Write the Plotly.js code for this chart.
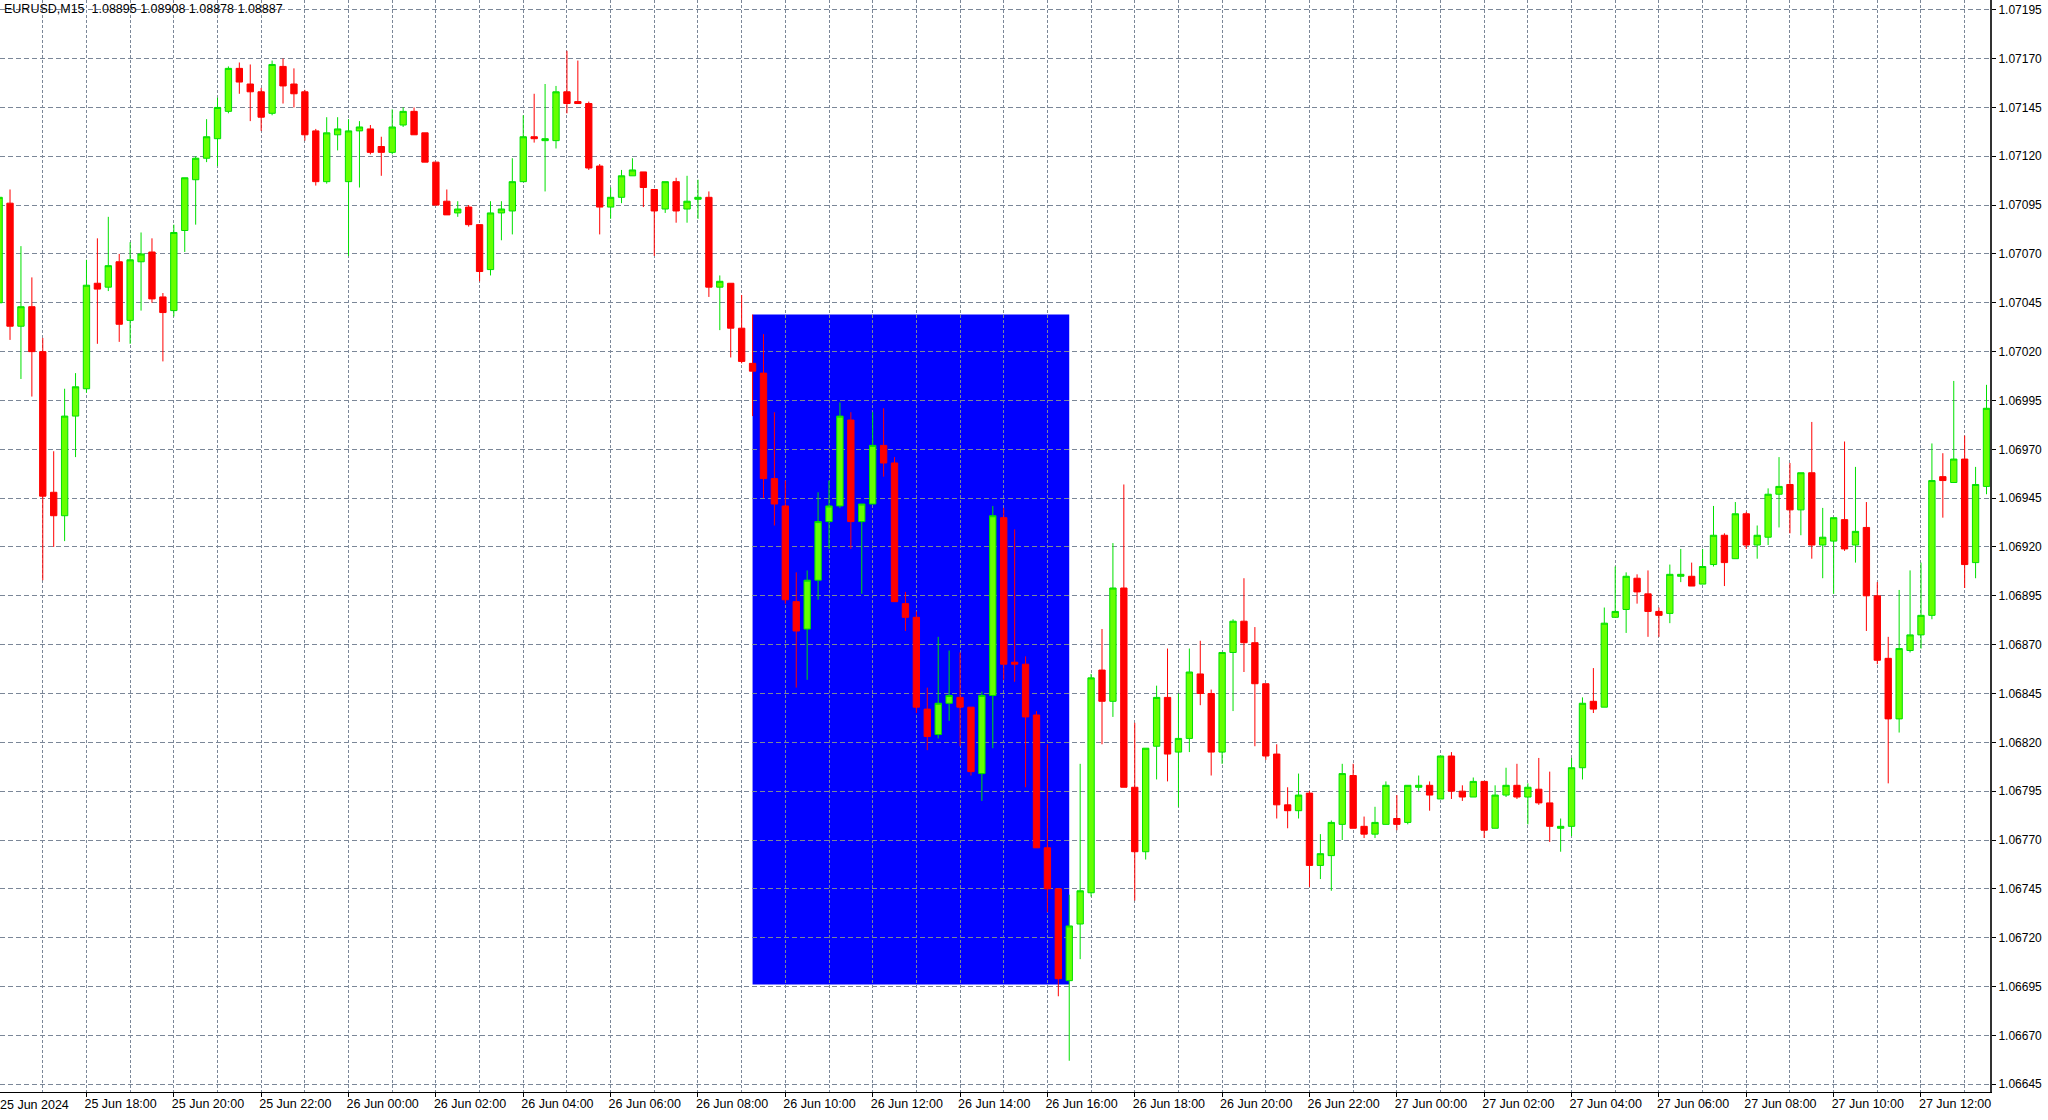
<!DOCTYPE html>
<html>
<head>
<meta charset="utf-8">
<script src="https://cdn.plot.ly/plotly-3.0.1.min.js"></script>
<style>
  html, body { margin: 0; padding: 0; background: #ffffff; }
  #chart { width: 2048px; height: 1120px; }
</style>
</head>
<body>
<div id="chart"></div>
<script>
// EURUSD M15 bars, 25 Jun 2024 16:00 ... 27 Jun 2024 13:30 (bar index 0..182)
const openPrices = [
1.07045,1.07096,1.07033,1.07043,1.07020,1.06948,1.06936,1.06987,1.07001,1.07055,
1.07053,1.07066,1.07036,1.07066,1.07071,1.07048,1.07041,1.07082,1.07108,1.07119,
1.07129,1.07143,1.07165,1.07157,1.07153,1.07142,1.07166,1.07157,1.07153,1.07133,
1.07107,1.07131,1.07107,1.07133,1.07134,1.07125,1.07122,1.07136,1.07143,1.07132,
1.07117,1.07097,1.07091,1.07094,1.07085,1.07062,1.07091,1.07092,1.07107,1.07130,
1.07128,1.07128,1.07153,1.07148,1.07147,1.07115,1.07094,1.07099,1.07110,1.07112,
1.07103,1.07093,1.07107,1.07093,1.07098,1.07099,1.07053,1.07055,1.07032,1.07014,
1.07009,1.06955,1.06941,1.06892,1.06878,1.06903,1.06933,1.06941,1.06985,1.06933,
1.06942,1.06972,1.06963,1.06891,1.06884,1.06837,1.06824,1.06840,1.06843,1.06838,
1.06804,1.06844,1.06935,1.06861,1.06860,1.06834,1.06766,1.06745,1.06698,1.06727,
1.06743,1.06857,1.06841,1.06899,1.06797,1.06764,1.06818,1.06843,1.06815,1.06822,
1.06855,1.06845,1.06815,1.06866,1.06882,1.06871,1.06850,1.06814,1.06788,1.06785,
1.06794,1.06757,1.06762,1.06778,1.06803,1.06777,1.06773,1.06778,1.06781,1.06779,
1.06797,1.06798,1.06791,1.06813,1.06795,1.06792,1.06800,1.06776,1.06793,1.06798,
1.06792,1.06796,1.06789,1.06776,1.06777,1.06807,1.06841,1.06838,1.06884,1.06888,
1.06904,1.06896,1.06887,1.06886,1.06905,1.06905,1.06901,1.06911,1.06926,1.06914,
1.06937,1.06921,1.06925,1.06947,1.06952,1.06939,1.06958,1.06921,1.06923,1.06934,
1.06921,1.06930,1.06895,1.06863,1.06832,1.06867,1.06875,1.06885,1.06956,1.06953,
1.06965,1.06912,1.06951
];
const highPrices = [
1.07105,1.07103,1.07074,1.07058,1.07027,1.06969,1.07001,1.07009,1.07067,1.07078,
1.07089,1.07070,1.07076,1.07081,1.07078,1.07050,1.07085,1.07109,1.07120,1.07139,
1.07150,1.07166,1.07168,1.07167,1.07155,1.07169,1.07170,1.07165,1.07154,1.07134,
1.07140,1.07140,1.07139,1.07138,1.07136,1.07130,1.07144,1.07145,1.07145,1.07132,
1.07117,1.07103,1.07097,1.07095,1.07085,1.07097,1.07097,1.07119,1.07141,1.07152,
1.07157,1.07156,1.07174,1.07169,1.07148,1.07116,1.07104,1.07113,1.07119,1.07112,
1.07103,1.07107,1.07109,1.07110,1.07108,1.07102,1.07059,1.07055,1.07049,1.07039,
1.07029,1.06989,1.06954,1.06907,1.06908,1.06948,1.06954,1.06994,1.06989,1.06942,
1.06989,1.06991,1.06966,1.06897,1.06887,1.06848,1.06874,1.06867,1.06866,1.06838,
1.06846,1.06941,1.06940,1.06929,1.06864,1.06836,1.06819,1.06745,1.06742,1.06809,
1.06855,1.06878,1.06922,1.06952,1.06830,1.06817,1.06849,1.06868,1.06845,1.06868,
1.06872,1.06847,1.06866,1.06883,1.06904,1.06879,1.06850,1.06819,1.06797,1.06804,
1.06795,1.06773,1.06780,1.06809,1.06809,1.06782,1.06787,1.06800,1.06793,1.06798,
1.06803,1.06800,1.06813,1.06815,1.06798,1.06802,1.06800,1.06798,1.06807,1.06809,
1.06799,1.06812,1.06805,1.06781,1.06812,1.06843,1.06858,1.06889,1.06910,1.06907,
1.06906,1.06908,1.06889,1.06911,1.06919,1.06912,1.06919,1.06941,1.06927,1.06943,
1.06938,1.06931,1.06950,1.06966,1.06963,1.06958,1.06984,1.06940,1.06935,1.06974,
1.06961,1.06943,1.06902,1.06874,1.06898,1.06908,1.06912,1.06973,1.06968,1.07005,
1.06977,1.06961,1.07003
];
const lowPrices = [
1.07040,1.07026,1.07006,1.06997,1.06903,1.06920,1.06923,1.06966,1.06999,1.07024,
1.07051,1.07025,1.07024,1.07041,1.07045,1.07015,1.07038,1.07071,1.07085,1.07117,
1.07115,1.07142,1.07152,1.07138,1.07133,1.07141,1.07147,1.07145,1.07128,1.07105,
1.07106,1.07123,1.07069,1.07104,1.07121,1.07110,1.07121,1.07135,1.07131,1.07117,
1.07095,1.07090,1.07089,1.07084,1.07056,1.07059,1.07077,1.07080,1.07107,1.07127,
1.07102,1.07124,1.07142,1.07147,1.07113,1.07080,1.07088,1.07096,1.07110,1.07094,
1.07069,1.07091,1.07086,1.07086,1.07088,1.07048,1.07031,1.07017,1.07014,1.06987,
1.06945,1.06931,1.06891,1.06848,1.06852,1.06893,1.06919,1.06940,1.06919,1.06896,
1.06942,1.06956,1.06892,1.06877,1.06835,1.06816,1.06822,1.06831,1.06818,1.06803,
1.06790,1.06817,1.06852,1.06851,1.06797,1.06766,1.06733,1.06690,1.06657,1.06709,
1.06741,1.06819,1.06833,1.06797,1.06739,1.06760,1.06801,1.06800,1.06787,1.06815,
1.06839,1.06803,1.06809,1.06836,1.06856,1.06818,1.06811,1.06781,1.06776,1.06781,
1.06746,1.06750,1.06744,1.06770,1.06776,1.06771,1.06771,1.06778,1.06775,1.06778,
1.06795,1.06785,1.06791,1.06791,1.06790,1.06792,1.06771,1.06776,1.06792,1.06791,
1.06778,1.06788,1.06769,1.06764,1.06772,1.06801,1.06835,1.06838,1.06884,1.06876,
1.06891,1.06874,1.06874,1.06881,1.06902,1.06900,1.06901,1.06910,1.06900,1.06914,
1.06919,1.06914,1.06921,1.06930,1.06927,1.06926,1.06914,1.06904,1.06896,1.06918,
1.06912,1.06877,1.06860,1.06799,1.06825,1.06866,1.06868,1.06883,1.06935,1.06953,
1.06899,1.06904,1.06947
];
const closePrices = [
1.07099,1.07033,1.07043,1.07020,1.06946,1.06936,1.06987,1.07002,1.07054,1.07052,
1.07064,1.07034,1.07067,1.07070,1.07047,1.07040,1.07081,1.07109,1.07119,1.07130,
1.07145,1.07165,1.07158,1.07153,1.07140,1.07167,1.07156,1.07152,1.07131,1.07107,
1.07132,1.07134,1.07133,1.07135,1.07122,1.07122,1.07135,1.07143,1.07131,1.07117,
1.07095,1.07090,1.07093,1.07085,1.07061,1.07091,1.07093,1.07107,1.07130,1.07129,
1.07129,1.07153,1.07147,1.07147,1.07114,1.07094,1.07099,1.07110,1.07113,1.07104,
1.07092,1.07107,1.07092,1.07097,1.07099,1.07053,1.07056,1.07032,1.07015,1.07010,
1.06955,1.06942,1.06893,1.06877,1.06903,1.06933,1.06941,1.06987,1.06933,1.06942,
1.06972,1.06963,1.06892,1.06884,1.06838,1.06823,1.06840,1.06844,1.06838,1.06805,
1.06844,1.06936,1.06860,1.06860,1.06833,1.06766,1.06745,1.06699,1.06726,1.06744,
1.06853,1.06841,1.06899,1.06797,1.06764,1.06817,1.06843,1.06814,1.06822,1.06856,
1.06845,1.06815,1.06866,1.06882,1.06871,1.06850,1.06813,1.06788,1.06785,1.06793,
1.06757,1.06763,1.06779,1.06804,1.06776,1.06773,1.06779,1.06798,1.06778,1.06798,
1.06798,1.06793,1.06813,1.06795,1.06792,1.06800,1.06775,1.06793,1.06798,1.06792,
1.06797,1.06789,1.06777,1.06777,1.06807,1.06840,1.06837,1.06881,1.06887,1.06905,
1.06897,1.06887,1.06885,1.06906,1.06906,1.06900,1.06910,1.06926,1.06912,1.06937,
1.06921,1.06926,1.06947,1.06951,1.06939,1.06958,1.06921,1.06925,1.06935,1.06919,
1.06928,1.06895,1.06862,1.06832,1.06868,1.06875,1.06885,1.06954,1.06954,1.06965,
1.06911,1.06952,1.06991
];

// time-axis labels (bar index -> label)
const labelBars = [8,16,24,32,40,48,56,64,72,80,88,96,104,112,120,128,136,144,152,160,168,176];
const labelTexts = [
'25 Jun 18:00','25 Jun 20:00','25 Jun 22:00','26 Jun 00:00','26 Jun 02:00','26 Jun 04:00',
'26 Jun 06:00','26 Jun 08:00','26 Jun 10:00','26 Jun 12:00','26 Jun 14:00','26 Jun 16:00',
'26 Jun 18:00','26 Jun 20:00','26 Jun 22:00','27 Jun 00:00','27 Jun 02:00','27 Jun 04:00',
'27 Jun 06:00','27 Jun 08:00','27 Jun 10:00','27 Jun 12:00'
];
const hourGridBars = [4,12,20,28,36,44,52,60,68,76,84,92,100,108,116,124,132,140,148,156,164,172,180];
const firstLabel = '25 Jun 2024';
const headerText = 'EURUSD,M15\u00a0\u00a01.08895\u00a01.08908\u00a01.08878\u00a01.08887';

// price ticks
const priceTick0 = 1.06645;
const priceStep = 0.00025;

// blue rectangle object (bars 26 Jun 09:15 -> 26 Jun 16:30)
const rectStartBar = 69;
const rectEndBar = 98;
const rectTop = 1.07039;
const rectBottom = 1.06696;

const barIndex = openPrices.map((_, i) => i);

const gridColor = '#7b8798';
const fontFamily = '"Liberation Sans", Arial, sans-serif';

const trace = {
  type: 'candlestick',
  x: barIndex,
  open: openPrices,
  high: highPrices,
  low: lowPrices,
  close: closePrices,
  increasing: { line: { color: '#00e000', width: 1 }, fillcolor: '#66ff00' },
  decreasing: { line: { color: '#ff0000', width: 1 }, fillcolor: '#ff0000' },
  whiskerwidth: 0,
  hoverinfo: 'skip',
  showlegend: false
};

const layout = {
  width: 2048,
  height: 1120,
  margin: { l: 0, r: 58, t: 0, b: 28, pad: 0 },
  paper_bgcolor: '#ffffff',
  plot_bgcolor: '#ffffff',
  boxgap: 0.42,
  boxgroupgap: 0,
  showlegend: false,
  font: { family: fontFamily, size: 12, color: '#000000' },
  xaxis: {
    type: 'linear',
    range: [0.082, 182.32],
    rangeslider: { visible: false },
    tickmode: 'array',
    tickvals: labelBars,
    ticktext: labelTexts,
    ticklabelposition: 'outside right',
    ticklabelshift: -3,
    ticks: 'outside',
    ticklen: 4,
    tickcolor: '#000000',
    tickfont: { family: fontFamily, size: 12.5, color: '#000000' },
    showgrid: true,
    gridcolor: gridColor,
    gridwidth: 1,
    griddash: '3px,2px',
    minor: {
      tickmode: 'array',
      tickvals: hourGridBars,
      showgrid: true,
      gridcolor: gridColor,
      gridwidth: 1,
      griddash: '3px,2px',
      ticks: ''
    },
    showline: true,
    linecolor: '#000000',
    linewidth: 1,
    zeroline: false,
    fixedrange: true,
    automargin: false
  },
  yaxis: {
    side: 'right',
    range: [1.06641, 1.07200],
    tickmode: 'linear',
    tick0: priceTick0,
    dtick: priceStep,
    tickformat: '.5f',
    ticks: 'outside',
    ticklen: 4,
    tickcolor: '#000000',
    tickfont: { family: fontFamily, size: 12, color: '#000000' },
    showgrid: true,
    gridcolor: gridColor,
    gridwidth: 1,
    griddash: '5px,3px',
    showline: true,
    linecolor: '#333333',
    linewidth: 2,
    zeroline: false,
    fixedrange: true,
    automargin: false
  },
  shapes: [{
    type: 'rect',
    xref: 'x', yref: 'y',
    x0: rectStartBar, x1: rectEndBar,
    y0: rectBottom, y1: rectTop,
    fillcolor: '#0000ff',
    line: { width: 0 },
    layer: 'below'
  }],
  annotations: [
    {
      text: headerText,
      xref: 'paper', yref: 'paper',
      x: 0.001, y: 1,
      xanchor: 'left', yanchor: 'top',
      showarrow: false,
      font: { family: fontFamily, size: 12.5, color: '#000000' }
    },
    {
      text: firstLabel,
      xref: 'paper', yref: 'paper',
      x: 0, y: 0,
      xanchor: 'left', yanchor: 'top',
      xshift: -2,
      yshift: -4,
      showarrow: false,
      font: { family: fontFamily, size: 12.5, color: '#000000' }
    }
  ]
};

Plotly.newPlot('chart', [trace], layout, { staticPlot: true, displayModeBar: false });
</script>
</body>
</html>
